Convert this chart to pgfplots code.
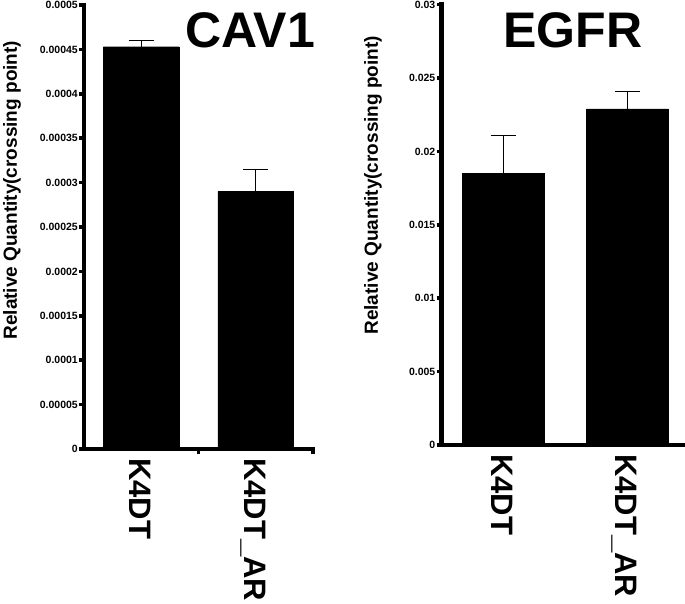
\documentclass[border=0pt]{standalone}
\usepackage{fontspec}
\setmainfont{Liberation Sans}
\usepackage{pgfplots}
\pgfplotsset{compat=1.18}
\pgfplotsset{
  panel/.style={
    scale only axis, anchor=south west, clip=false,
    axis lines=left,
    axis line style={-},
    ybar, bar width=0.66, xmin=0,
    ymin=0,
    tick align=outside, major tick length=5pt,
    tick style={line width=3.5pt, black},
    scaled y ticks=false,
    /pgf/number format/assume math mode=true,
    yticklabel style={font=\bfseries\fontsize{10.5}{12}\selectfont, inner sep=1pt},
    ylabel={Relative Quantity(crossing point)},
    ylabel style={font=\bfseries\fontsize{19}{19}\selectfont, anchor=center, rotate=0},
    extra x ticks={0.5,1.5},
    extra x tick labels={K4DT,K4DT\_AR},
    extra x tick style={major tick length=0pt,
      xticklabel style={rotate=-90, anchor=west, font=\bfseries\fontsize{31}{31}\selectfont, text depth=0pt, inner sep=0pt, xshift=9pt, yshift=-1pt}},
  },
  errs/.style={fill=black, draw=black,
    error bars/.cd, y dir=plus, y explicit,
    error bar style={line width=1.4pt, black},
    error mark options={rotate=90, mark size=12.5pt, line width=1.4pt, black}},
}
\newcommand{\thickaxes}{%
  \draw[line width=4.5pt, line cap=rect] (axis description cs:0,1) -- (axis description cs:0,0) -- (axis description cs:1,0);}
\begin{document}
\begin{tikzpicture}
\useasboundingbox (0,0) rectangle (685pt,603pt);
\begin{axis}[panel, at={(84pt,154pt)}, width=229pt, height=444pt,
  xmax=2, xtick={1,2}, xticklabels={},
  ymax=0.0005,
  ytick={0,0.00005,0.0001,0.00015,0.0002,0.00025,0.0003,0.00035,0.0004,0.00045,0.0005},
  yticklabel style={/pgf/number format/fixed, /pgf/number format/precision=5},
  ylabel style={at={(axis description cs:-0.314,0.583)}},
]
\addplot[errs] coordinates {(0.5,0.000453) +- (0,0.000007) (1.5,0.000290) +- (0,0.000025)};
\thickaxes
\node[font=\bfseries\fontsize{50}{50}\selectfont] at (axis description cs:0.725,0.944) {CAV1};
\end{axis}
\begin{axis}[panel, at={(441.5pt,158pt)}, width=243.5pt, height=440.3pt,
  xmax=1.964, xtick=\empty,
  ymax=0.03,
  ytick={0,0.005,0.01,0.015,0.02,0.025,0.03},
  yticklabel style={/pgf/number format/fixed, /pgf/number format/precision=3},
  ylabel style={at={(axis description cs:-0.281,0.59)}},
]
\addplot[errs] coordinates {(0.5,0.0185) +- (0,0.00257) (1.5,0.0229) +- (0,0.0012)};
\thickaxes
\node[font=\bfseries\fontsize{50}{50}\selectfont] at (axis description cs:0.54,0.943) {EGFR};
\end{axis}
\end{tikzpicture}
\end{document}
